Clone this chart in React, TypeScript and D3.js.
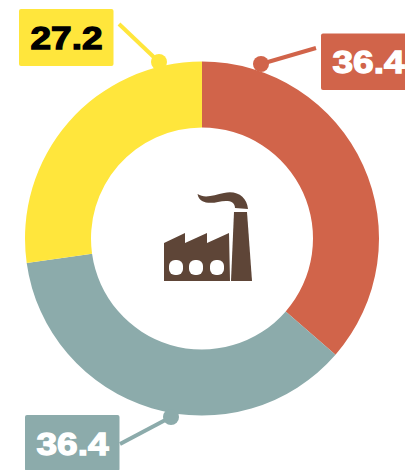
import React from "react";
import * as d3 from "d3";

const sliceNames = ["Red", "Teal", "Yellow"];
const sliceValues = [36.4, 36.4, 27.2];
const sliceLabels = ["36.4", "36.4", "27.2"];
const sliceColors = ["#D1644A", "#8CABAB", "#FFE63C"];
const labelColors = ["#FFFFFF", "#FFFFFF", "#000000"];
const windowXs = [169, 189, 210];

const W = 405, H = 470, CX = 202, CY = 238.5, RO = 177, RI = 111;
// callout layout: dot, line end, label box
const dots = [[261, 64], [171, 417], [159, 62]];
const lineEnds = [[316, 48], [120, 444], [119, 24]];
const boxes = [[321, 33.5, 94, 56.5], [25, 415, 94.5, 56], [19, 9, 94.5, 57]];

export default function App() {
  const pie = d3.pie<number>().sort(null).value((d) => d);
  const arc = d3.arc<d3.PieArcDatum<number>>().innerRadius(RI).outerRadius(RO);
  const arcs = pie(sliceValues);
  return (
    <svg width={W} height={H} viewBox={`0 0 ${W} ${H}`} style={{ position: "absolute", left: 0, top: 0, background: "#fff" }}>
      <g transform={`translate(${CX},${CY})`}>
        {arcs.map((a, i) => (
          <path key={sliceNames[i]} d={arc(a) ?? ""} fill={sliceColors[i]} />
        ))}
      </g>
      {arcs.map((_, i) => (
        <g key={i}>
          <line x1={dots[i][0]} y1={dots[i][1]} x2={lineEnds[i][0]} y2={lineEnds[i][1]} stroke={sliceColors[i]} strokeWidth={4} />
          <circle cx={dots[i][0]} cy={dots[i][1]} r={8} fill={sliceColors[i]} />
          <rect x={boxes[i][0]} y={boxes[i][1]} width={boxes[i][2]} height={boxes[i][3]} rx={2} fill={sliceColors[i]} />
          <text
            x={boxes[i][0] + 11.5}
            y={boxes[i][1] + boxes[i][3] / 2 + 11.5}
            textLength={72}
            lengthAdjust="spacingAndGlyphs"
            fontFamily="'Liberation Sans', Arial, sans-serif"
            fontWeight={700}
            fontSize={32}
            fill={labelColors[i]}
            stroke={labelColors[i]}
            strokeWidth={1.3}
          >
            {sliceLabels[i]}
          </text>
        </g>
      ))}
      <g fill="#5E4537">
        <path d="M164 243 L185 233 L185 243 L207 233 L207 243 L229 233 L230 281 L164 281 Z" />
        {windowXs.map((x) => (
          <rect key={x} x={x} y={260} width={14} height={15} rx={6} fill="#fff" />
        ))}
        <path d="M234 212 L247 212 L252 281 L231 281 Z" />
        <path d="M197.5 194 C205 199 214 195 224 193 C237 190 247 197 248 209 L235 208 C235 200 226 200 218 202 C209 204 199 203 197.5 194 Z" />
      </g>
    </svg>
  );
}
